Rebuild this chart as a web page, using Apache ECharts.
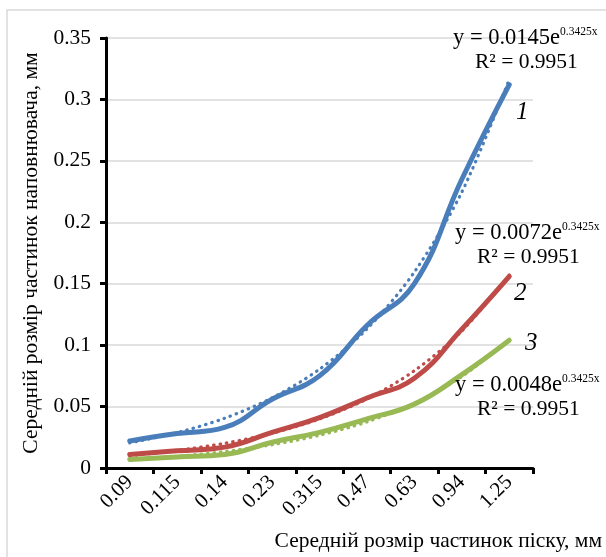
<!DOCTYPE html>
<html>
<head>
<meta charset="utf-8">
<script src="https://cdn.jsdelivr.net/npm/echarts@6/dist/echarts.min.js"></script>
<style>html,body{margin:0;padding:0;background:#fff}#c{width:606px;height:557px}</style>
</head>
<body>
<div id="c"></div>
<script>
var categories = ['0.09', '0.115', '0.14', '0.23', '0.315', '0.47', '0.63', '0.94', '1.25'];
var series1 = [0.022, 0.028, 0.033, 0.056, 0.075, 0.116, 0.150, 0.235, 0.312];
var series2 = [0.011, 0.014, 0.017, 0.029, 0.041, 0.057, 0.073, 0.113, 0.156];
var series3 = [0.007, 0.009, 0.011, 0.021, 0.029, 0.040, 0.052, 0.076, 0.104];
var trend1 = [0.0204, 0.0288, 0.0405, 0.0571, 0.0804, 0.1132, 0.1595, 0.2246, 0.3164];
var trend2 = [0.0101, 0.0143, 0.0201, 0.0283, 0.0399, 0.0562, 0.0792, 0.1115, 0.1571];
var trend3 = [0.0068, 0.0095, 0.0134, 0.0189, 0.0266, 0.0375, 0.0528, 0.0744, 0.1047];
var yTicks = [0, 0.05, 0.1, 0.15, 0.2, 0.25, 0.3, 0.35];

var FONT = '"Liberation Serif", "Times New Roman", serif';
var colors = ['#4a7ebb', '#be4b48', '#98b954'];

function solid(name, data, color) {
  return { name: name, type: 'line', data: data, smooth: 0.45, symbol: 'none',
    lineStyle: { color: color, width: 5, cap: 'round', join: 'round' }, z: 2 };
}
function dotted(name, data, color) {
  return { name: name, type: 'line', data: data, smooth: 0.3, symbol: 'none',
    lineStyle: { color: color, width: 3.2, type: [0.5, 6], cap: 'round' }, z: 3 };
}
function eqText(coef, x, y) {
  return { type: 'text', left: x, top: y, z: 10,
    style: { text: '{b|y = ' + coef + 'e}{s|0.3425x}\n{r|R² = 0.9951}',
      rich: {
        b: { fontFamily: FONT, fontSize: 22.5, lineHeight: 24, fill: '#000' },
        s: { fontFamily: FONT, fontSize: 11.5, lineHeight: 24, verticalAlign: 'top', fill: '#000' },
        r: { fontFamily: FONT, fontSize: 21.5, lineHeight: 24, fill: '#000', padding: [0, 0, 0, 22] }
      } } };
}
function numText(t, x, y) {
  return { type: 'text', left: x, top: y, z: 10,
    style: { text: t, fontFamily: FONT, fontStyle: 'italic', fontSize: 25, fill: '#000' } };
}

var chart = echarts.init(document.getElementById('c'));
chart.setOption({
  animation: false,
  backgroundColor: '#fff',
  grid: { left: 106, right: 73, top: 38, bottom: 89 },
  xAxis: {
    type: 'category', data: categories, boundaryGap: true,
    axisLine: { lineStyle: { color: '#000', width: 3 } },
    axisTick: { show: true, length: 6, lineStyle: { color: '#000', width: 3 } },
    axisLabel: { rotate: 45, margin: 11, color: '#000', fontFamily: FONT, fontSize: 21 },
    splitLine: { show: false }
  },
  yAxis: {
    type: 'value', min: 0, max: 0.35, interval: 0.05,
    name: 'Середній розмір частинок наповнювача, мм', nameLocation: 'middle', nameGap: 60,
    nameTextStyle: { color: '#000', fontFamily: FONT, fontSize: 21.5 },
    axisLine: { show: true, lineStyle: { color: '#000', width: 3 } },
    axisTick: { show: true, length: 6, lineStyle: { color: '#000', width: 3 } },
    axisLabel: { margin: 15, color: '#000', fontFamily: FONT, fontSize: 21.5,
      formatter: function (v) { for (var i = 0; i < yTicks.length; i++) { if (Math.abs(yTicks[i] - v) < 1e-9) return String(yTicks[i]); } return ''; } },
    splitLine: { show: true, lineStyle: { color: '#d9d9d9', width: 1.5 } }
  },
  series: [
    solid('1', series1, colors[0]),
    solid('2', series2, colors[1]),
    solid('3', series3, colors[2]),
    dotted('t1', trend1, colors[0]),
    dotted('t2', trend2, colors[1]),
    dotted('t3', trend3, colors[2])
  ],
  graphic: [
    { type: 'rect', shape: { x: 7, y: 10, width: 620, height: 570 }, style: { fill: 'none', stroke: '#d9d9d9', lineWidth: 1.5 }, z: -1 },
    eqText('0.0145', 453, 26),
    eqText('0.0072', 455, 221),
    eqText('0.0048', 455, 373),
    numText('1', 516, 100),
    numText('2', 514, 281),
    numText('3', 525, 331),
    { type: 'text', right: 4, top: 530, z: 10,
      style: { text: 'Середній розмір частинок піску, мм', fontFamily: FONT, fontSize: 21.5, fill: '#000' } }
  ]
});
</script>
</body>
</html>
